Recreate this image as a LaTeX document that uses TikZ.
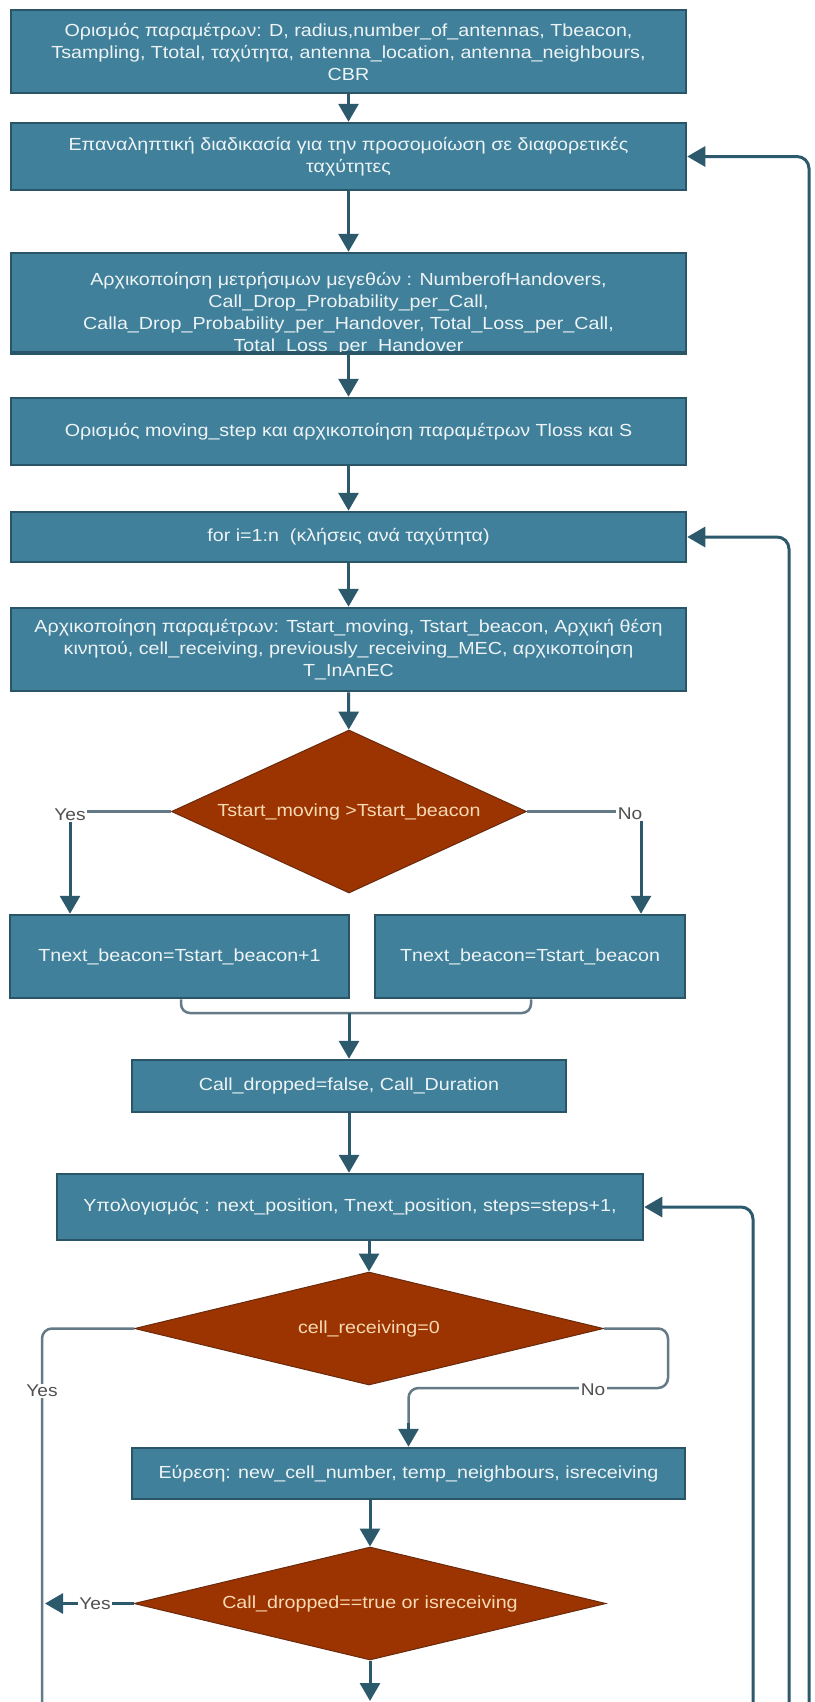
\documentclass[tikz,border=0pt]{standalone}
\usepackage{fontspec}
\setmainfont{Liberation Sans}[FakeStretch=1.125]
\usetikzlibrary{arrows.meta,shapes.geometric}

\definecolor{boxfill}{HTML}{40809A}
\definecolor{boxedge}{HTML}{2A5566}
\definecolor{boxtext}{HTML}{EEF4F6}
\definecolor{decfill}{HTML}{9B3400}
\definecolor{decedge}{HTML}{6A2A0E}
\definecolor{dectext}{HTML}{F8D9B4}
\definecolor{flowcol}{HTML}{2C5A6C}
\definecolor{linkcol}{HTML}{647A86}
\definecolor{lblcol}{HTML}{505050}

\tikzset{
  txt/.style={font=\fontsize{17.5}{22}\selectfont},
  box/.style={txt, draw=boxedge, line width=2.5pt, fill=boxfill, text=boxtext,
              align=center, inner sep=0pt},
  boxtxt/.style={txt, text=boxtext, align=center, inner sep=0pt},
  decision/.style={txt, diamond, draw=decedge, line width=1pt, fill=decfill,
              text=dectext, inner sep=0pt},
  flow/.style={draw=flowcol, line width=3pt,
              -{Triangle[length=18pt,width=20pt]}},
  link/.style={draw=linkcol, line width=2.5pt},
  lbl/.style={font=\fontsize{17}{20}\selectfont, text=lblcol, fill=white,
              inner sep=1.5pt}
}

\begin{document}
\begin{tikzpicture}[x=1pt,y=-1pt]
\useasboundingbox[fill=white] (0,0) rectangle (814,1702);

% main column of process boxes
\node[box, minimum width=675pt, minimum height=83pt] (b1) at (348.5,51.5)
  {Ορισμός παραμέτρων: D, radius,number\_of\_antennas, Tbeacon,\\
   Tsampling, Ttotal, ταχύτητα, antenna\_location, antenna\_neighbours,\\
   CBR};
\node[box, minimum width=675pt, minimum height=67pt] (b2) at (348.5,156.5)
  {Επαναληπτική διαδικασία για την προσομοίωση σε διαφορετικές\\ ταχύτητες};
\node[box, minimum width=675pt, minimum height=99pt] (b3) at (348.5,302.5) {};
\node[boxtxt] (t3) at (348.5,314)
  {Αρχικοποίηση μετρήσιμων μεγεθών : NumberofHandovers,\\
   Call\_Drop\_Probability\_per\_Call,\\
   Calla\_Drop\_Probability\_per\_Handover, Total\_Loss\_per\_Call,\\
   Total\_Loss\_per\_Handover};
\draw[draw=boxedge, line width=2.5pt] (b3.south west) -- (b3.south east);
\node[box, minimum width=675pt, minimum height=67pt] (b4) at (348.5,431.5)
  {Ορισμός moving\_step και αρχικοποίηση παραμέτρων Tloss και S};
\node[box, minimum width=675pt, minimum height=50pt] (b5) at (348.5,537)
  {for i=1:n\ \ (κλήσεις ανά ταχύτητα)};
\node[box, minimum width=675pt, minimum height=83pt] (b6) at (348.5,649.5)
  {Αρχικοποίηση παραμέτρων: Tstart\_moving, Tstart\_beacon, Αρχική θέση\\
   κινητού, cell\_receiving, previously\_receiving\_MEC, αρχικοποίηση\\
   T\_InAnEC};

\node[decision, aspect=2.18, minimum width=355pt, minimum height=163pt] (d1)
  at (349,811.5) {Tstart\_moving >Tstart\_beacon};

\node[box, minimum width=339pt, minimum height=83pt] (b7) at (179.5,956.5)
  {Tnext\_beacon=Tstart\_beacon+1};
\node[box, minimum width=310pt, minimum height=83pt] (b8) at (530,956.5)
  {Tnext\_beacon=Tstart\_beacon};
\node[box, minimum width=434pt, minimum height=52pt] (b9) at (349,1086)
  {Call\_dropped=false, Call\_Duration};
\node[box, minimum width=586pt, minimum height=66pt] (b10) at (350,1207)
  {Υπολογισμός : next\_position, Tnext\_position, steps=steps+1,};

\node[decision, aspect=4.15, minimum width=469pt, minimum height=113pt] (d2)
  at (369,1328.5) {cell\_receiving=0};
\node[box, minimum width=553pt, minimum height=51pt] (b11) at (408.5,1473.5)
  {Εύρεση: new\_cell\_number, temp\_neighbours, isreceiving};
\node[decision, aspect=4.18, minimum width=472pt, minimum height=113pt] (d3)
  at (370,1603.5) {Call\_dropped==true or isreceiving};

% straight flow
\draw[flow] (b1) -- (b2);
\draw[flow] (b2) -- (b3);
\draw[flow] (b3) -- (b4);
\draw[flow] (b4) -- (b5);
\draw[flow] (b5) -- (b6);
\draw[flow] (b6) -- (d1);

% first decision
\coordinate (y1) at (70,811.5);
\coordinate (n1) at (641,811.5);
\draw[link] (d1.west) -- (y1);
\draw[flow] (y1) -- (y1 |- b7.north);
\node[lbl] (ly1) at (70,815) {Yes};
\draw[link] (d1.east) -- (n1);
\draw[flow] (n1) -- (n1 |- b8.north);
\node[lbl] (ln1) at (630,814) {No};

% joining the two branches
\coordinate (mL) at (181,1013);
\coordinate (mR) at (531,1013);
\coordinate (mC) at (349,1013);
\draw[link, rounded corners=9pt] (b7.south -| mL) -- (mL) -- (mR) -- (b8.south -| mR);
\draw[flow] (mC) -- (b9.north);
\draw[flow] (b9.south) -- (b9.south |- b10.north);
\draw[flow] (d2.north |- b10.south) -- (d2.north);

% second decision
\coordinate (ybot) at (42,1702);
\draw[link, rounded corners=10pt] (d2.west) -| (ybot);
\node[lbl] (ly2) at (42,1391) {Yes};
\coordinate (nr) at (668,1388);
\coordinate (nl) at (408.5,1388);
\draw[link, rounded corners=10pt] (d2.east) -| (nr) -- (nl) -- ([yshift=18pt]b11.north);
\draw[flow] ([yshift=24pt]b11.north) -- (b11.north);
\node[lbl] (ln2) at (593,1390) {No};
\draw[flow] (b11.south -| d3.north) -- (d3.north);

% third decision
\coordinate (y3) at (45,1603.5);
\draw[flow] (d3.west) -- (y3);
\node[lbl] (ly3) at (95,1603.5) {Yes};
\coordinate (dend) at (370,1701);
\draw[flow] (d3.south) -- (dend);

% loop-back connectors on the right
\coordinate (lA) at (809,1702);
\coordinate (lB) at (789,1702);
\coordinate (lC) at (753,1702);
\draw[flow, rounded corners=12pt] (lA) |- (b2.east);
\draw[flow, rounded corners=12pt] (lB) |- (b5.east);
\draw[flow, rounded corners=12pt] (lC) |- (b10.east);
\end{tikzpicture}
\end{document}
